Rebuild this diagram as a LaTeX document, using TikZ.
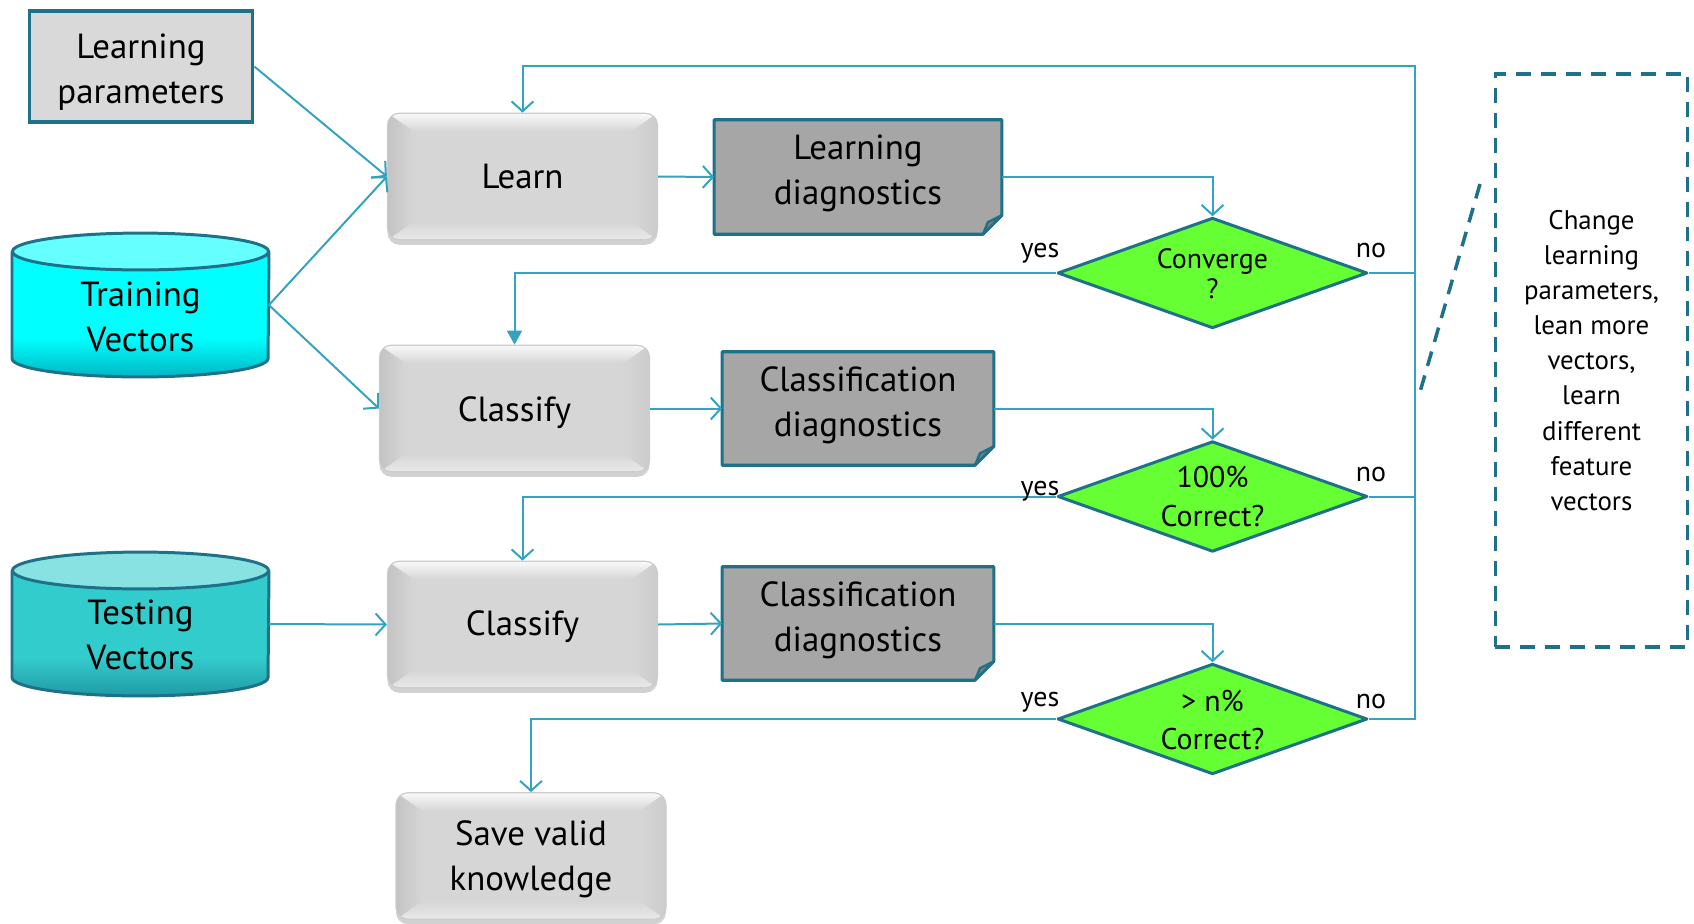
\documentclass[tikz,border=0pt]{standalone}
\usepackage{fontspec}
\setmainfont{PT Sans}
\usetikzlibrary{shapes.geometric,arrows.meta,shadows,backgrounds,calc}
\definecolor{cline}{HTML}{33A3C0}
\definecolor{bord}{HTML}{1F7089}
\definecolor{dgreen}{HTML}{66FF33}
\definecolor{lpfill}{HTML}{D9D9D9}
\definecolor{dgfill}{HTML}{A6A6A6}
\definecolor{foldc}{HTML}{7F7F7F}
\definecolor{trbody}{HTML}{00FFFF}
\definecolor{trtop}{HTML}{66FFFF}
\definecolor{trbot}{HTML}{00B0BE}
\definecolor{tebody}{HTML}{33CCCC}
\definecolor{tetop}{HTML}{88E2E2}
\definecolor{tebot}{HTML}{1E96A2}
\definecolor{bevin}{HTML}{D6D6D6}
\definecolor{bevtop}{HTML}{FAFAFA}
\definecolor{bevbot}{HTML}{E9E9E9}
\definecolor{bevl}{HTML}{C3C3C3}
\definecolor{bevr}{HTML}{CCCCCC}
\newcommand\mfont{\fontsize{17.5}{22.5}\selectfont}
\newcommand\tlift[2]{\raisebox{#1}[\height][\depth]{\begin{tabular}{@{}c@{}}#2\end{tabular}}}
\newcommand\dlabel[4]{\fontsize{#1}{#2}\selectfont\smash{\makebox[0pt]{\raisebox{#3}{\begin{tabular}{@{}c@{}}#4\end{tabular}}}}}
\newcommand\foldbox[1]{%
  \filldraw[fill=dgfill,draw=bord,line width=1.6pt,line join=round]
    (#1.north west) -- (#1.north east) -- ([yshift=9.5pt]#1.south east)
    -- ([xshift=-9.5pt]#1.south east) -- (#1.south west) -- cycle;
  \filldraw[fill=foldc,draw=bord,line width=1.2pt,line join=round]
    ([yshift=9.5pt]#1.south east) -- ([xshift=-9.5pt]#1.south east)
    -- ([xshift=-7pt,yshift=6pt]#1.south east) -- cycle;}
\newcommand\bevelpp{%
  \path (path picture bounding box.north west) coordinate (pnw)
        (path picture bounding box.south east) coordinate (pse)
        (path picture bounding box.north east) coordinate (pne)
        (path picture bounding box.south west) coordinate (psw);
  \fill[bevin,sharp corners] (pnw) rectangle (pse);
  \shade[sharp corners,top color=bevtop,bottom color=bevin]
    (pnw) -- (pne) -- ([shift={(-13pt,-9pt)}]pne) -- ([shift={(13pt,-9pt)}]pnw) -- cycle;
  \shade[sharp corners,top color=bevin,bottom color=bevbot]
    (psw) -- (pse) -- ([shift={(-13pt,9pt)}]pse) -- ([shift={(13pt,9pt)}]psw) -- cycle;
  \shade[sharp corners,left color=bevl,right color=bevin]
    (pnw) -- ([shift={(13pt,-9pt)}]pnw) -- ([shift={(13pt,9pt)}]psw) -- (psw) -- cycle;
  \shade[sharp corners,left color=bevin,right color=bevr]
    (pne) -- ([shift={(-13pt,-9pt)}]pne) -- ([shift={(-13pt,9pt)}]pse) -- (pse) -- cycle;}
\begin{document}
\begin{tikzpicture}[x=0.5bp,y=-0.5bp,
  conn/.style={draw=cline,line width=1pt},
  arr/.style={conn,-{Straight Barb[length=5pt,width=11pt,line width=1pt]}},
  farr/.style={conn,-{Triangle[length=7pt,width=7.5pt]}},
  lpbox/.style={rectangle,draw=bord,line width=1.75pt,fill=lpfill,
    minimum width=112pt,minimum height=55.5pt,inner sep=0pt,font=\mfont},
  bevel/.style={rectangle,rounded corners=6pt,draw=black!20,line width=0.6pt,
    fill=bevin,
    drop shadow={shadow xshift=0pt,shadow yshift=-2.5pt,opacity=0.3,fill=black!60},
    minimum width=135.5pt,minimum height=63.5pt,inner sep=0pt,font=\mfont,
    path picture={\bevelpp}},
  dbox/.style={rectangle,minimum width=136pt,minimum height=56.5pt,inner sep=0pt,
    font=\mfont},
  dia/.style={diamond,draw=bord,line width=1.5pt,fill=dgreen,line join=round,
    minimum width=155.5pt,minimum height=55.5pt,inner sep=0pt},
  cylnode/.style={rectangle,minimum width=128.5pt,minimum height=72pt,inner sep=0pt},
  cyltext/.style={font=\mfont,align=center,inner sep=0pt},
  cylb/.style={draw=bord,line width=1.5pt},
  lbl/.style={font=\fontsize{14}{16}\selectfont,anchor=base,inner sep=0pt},
  note/.style={rectangle,draw=bord,line width=1.75pt,dash pattern=on 7.5pt off 5pt,
    minimum width=96.5pt,minimum height=287.5pt,inner sep=0pt,align=center,
    font=\fontsize{13.5}{17.6}\selectfont},
  notel/.style={draw=bord,line width=1.75pt,dash pattern=on 7.5pt off 5pt}
]
\useasboundingbox (0,0) rectangle (1694,923);

% nodes
\node[lpbox] (lp) at (141,66.5) {\tlift{-2.7pt}{Learning\\parameters}};
\node[cylnode] (train) at (140.5,305) {};
\node[cylnode] (test) at (140.5,624) {};
\node[bevel] (learn) at (522.5,176.5) {\tlift{-1.6pt}{Learn}};
\node[bevel] (cls1) at (514.5,408.5) {\tlift{-2.2pt}{Classify}};
\node[bevel] (cls2) at (522.5,624.5) {\tlift{-1.2pt}{Classify}};
\node[bevel] (save) at (531,856) {\tlift{-1.4pt}{Save valid\\knowledge}};
\node[dbox,minimum width=144pt,minimum height=57pt] (ldiag) at (858,177) {\tlift{2.2pt}{Learning\\diagnostics}};
\node[dbox] (cd1) at (858,408.5) {\tlift{1.9pt}{Classification\\diagnostics}};
\node[dbox] (cd2) at (858,623.5) {\tlift{1.6pt}{Classification\\diagnostics}};
\node[dia] (conv) at (1212.5,273) {\dlabel{14}{15}{-5.7pt}{Converge\\?}};
\node[dia] (corr) at (1212.5,496.5) {\dlabel{15}{19.5}{-4.9pt}{100\%\\Correct?}};
\node[dia] (ncorr) at (1212.5,719) {\dlabel{15}{19}{-5.4pt}{> n\%\\Correct?}};
\node[cyltext] (traintxt) at (140.5,316.5) {Training\\Vectors};
\node[cyltext] (testtxt) at (140.5,635) {Testing\\Vectors};
\node[note] (nt) at (1591.5,360.5) {Change\\learning\\parameters,\\lean more\\vectors,\\learn\\different\\feature\\vectors};

% background shapes
\begin{scope}[on background layer]
  \foldbox{ldiag}
  \foldbox{cd1}
  \foldbox{cd2}
  % training cylinder
  \fill[trbody] (12,251.5) -- (12,358.5) arc[start angle=180,end angle=360,x radius=64.25pt,y radius=9.25pt] -- (269,251.5) -- cycle;
  \begin{scope}
    \clip (12,251.5) -- (12,358.5) arc[start angle=180,end angle=360,x radius=64.25pt,y radius=9.25pt] -- (269,251.5) -- cycle;
    \shade[top color=trbody,bottom color=trbot] (10,338) rectangle (271,380);
  \end{scope}
  \draw[cylb] (12,251.5) -- (12,358.5) arc[start angle=180,end angle=360,x radius=64.25pt,y radius=9.25pt] -- (269,251.5);
  \filldraw[cylb,fill=trtop] (140.5,251.5) ellipse[x radius=64.25pt,y radius=9.25pt];
  % testing cylinder
  \fill[tebody] (12,570.5) -- (12,677.5) arc[start angle=180,end angle=360,x radius=64.25pt,y radius=9.25pt] -- (269,570.5) -- cycle;
  \begin{scope}
    \clip (12,570.5) -- (12,677.5) arc[start angle=180,end angle=360,x radius=64.25pt,y radius=9.25pt] -- (269,570.5) -- cycle;
    \shade[top color=tebody,bottom color=tebot] (10,657) rectangle (271,699);
  \end{scope}
  \draw[cylb] (12,570.5) -- (12,677.5) arc[start angle=180,end angle=360,x radius=64.25pt,y radius=9.25pt] -- (269,570.5);
  \filldraw[cylb,fill=tetop] (140.5,570.5) ellipse[x radius=64.25pt,y radius=9.25pt];
\end{scope}

% connectors
\draw[arr] (lp.east) -- (learn.west);
\draw[arr] (train.east) -- (learn.west);
\draw[arr] (train.east) -- (cls1.west);
\draw[arr] (test.east) -- (cls2.west);
\draw[arr] (learn.east) -- (ldiag.west);
\draw[arr] (cls1.east) -- (cd1.west);
\draw[arr] (cls2.east) -- (cd2.west);
\draw[arr] (ldiag.east) -| (conv.north);
\draw[arr] (cd1.east) -| (corr.north);
\draw[arr] (cd2.east) -| (ncorr.north);
\draw[farr] (conv.west) -| (cls1.north);
\draw[arr] (corr.west) -| (cls2.north);
\draw[arr] (ncorr.west) -| (save.north);
\coordinate (loop) at (1415,66);
\draw[arr] (ncorr.east) -| (loop) -| (learn.north);
\draw[conn] (conv.east) -- (conv.east -| loop);
\draw[conn] (corr.east) -- (corr.east -| loop);

% callout line
\coordinate (n1) at (1480,184);
\coordinate (n2) at (1420,392);
\draw[notel] (n1) -- (n2);

% labels
\node[lbl] at (1040,257) {yes};
\node[lbl] at (1371,257) {no};
\node[lbl] at (1040,495) {yes};
\node[lbl] at (1371,481) {no};
\node[lbl] at (1040,706) {yes};
\node[lbl] at (1371,708) {no};
\end{tikzpicture}
\end{document}
